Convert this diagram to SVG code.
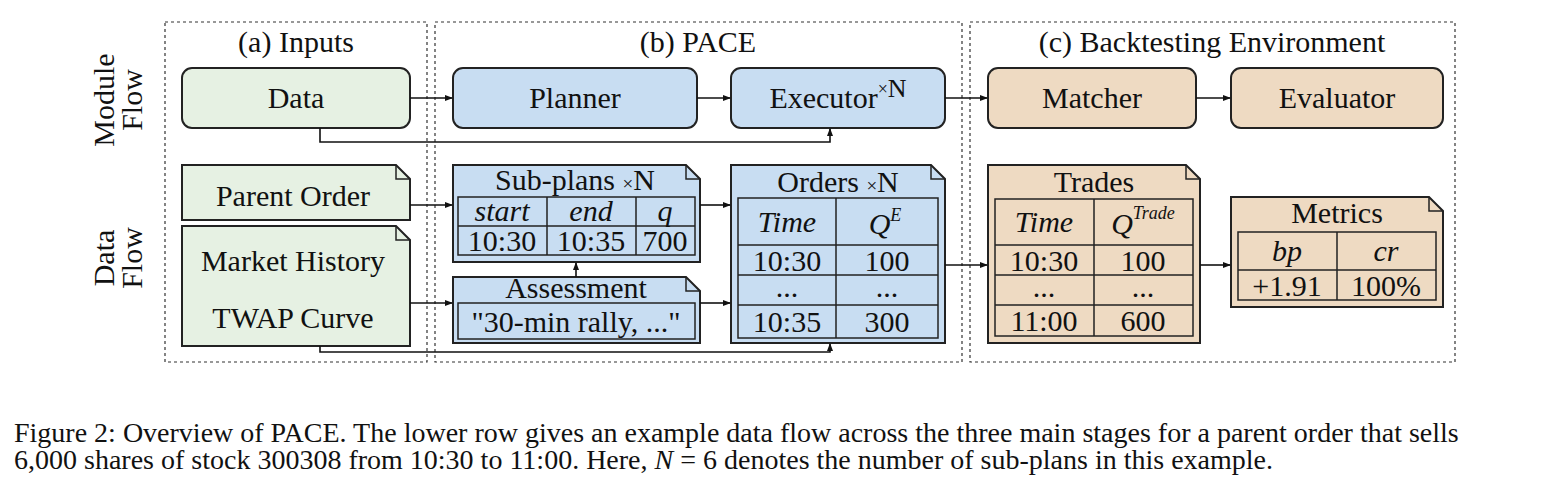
<svg xmlns="http://www.w3.org/2000/svg" width="1542" height="499" viewBox="0 0 1542 499" font-family="'Liberation Serif', 'Times New Roman', serif">
<style>
text{font-family:"Liberation Serif","Times New Roman",serif;fill:#111}
.t{font-family:"Liberation Serif","Times New Roman",serif;font-size:30px;text-anchor:middle}
.i{font-style:italic}
.sec{fill:none;stroke:#333;stroke-width:1.2;stroke-dasharray:3,3}
.g{fill:#e6f1e3;stroke:#222;stroke-width:2}
.b{fill:#c8ddf2;stroke:#222;stroke-width:2}
.o{fill:#eedac2;stroke:#222;stroke-width:2}
.tb{fill:none;stroke:#222;stroke-width:1.5}
.c{fill:none;stroke:#111;stroke-width:1.6;marker-end:url(#a)}
</style>
<defs><marker id="a" markerWidth="8" markerHeight="8" refX="7" refY="4" orient="auto" markerUnits="userSpaceOnUse"><path d="M0,1 L8,4 L0,7 Z" fill="#111"/></marker></defs>
<rect width="1542" height="499" fill="#fff"/>
<rect class="sec" x="165" y="22" width="262" height="340"/>
<rect class="sec" x="435" y="22" width="527" height="340"/>
<rect class="sec" x="970" y="22" width="485" height="340"/>
<text class="t" x="296" y="52">(a) Inputs</text>
<text class="t" x="698" y="52">(b) PACE</text>
<text class="t" x="1212" y="52">(c) Backtesting Environment</text>
<text class="t" transform="translate(114,100) rotate(-90)">Module</text>
<text class="t" transform="translate(142,100) rotate(-90)">Flow</text>
<text class="t" transform="translate(114,258) rotate(-90)">Data</text>
<text class="t" transform="translate(142,258) rotate(-90)">Flow</text>
<g id="data"><rect class="g" x="182" y="68" width="228" height="60" rx="10"/><text class="t" x="296" y="108">Data</text></g>
<g id="planner"><rect class="b" x="453" y="68" width="244" height="60" rx="10"/><text class="t" x="575" y="108">Planner</text></g>
<g id="executor"><rect class="b" x="731" y="68" width="214" height="60" rx="10"/><text class="t" x="838" y="108">Executor<tspan font-size="18" dy="-13">×</tspan><tspan font-size="26" dy="2">N</tspan></text></g>
<g id="matcher"><rect class="o" x="988" y="68" width="208" height="60" rx="10"/><text class="t" x="1092" y="108">Matcher</text></g>
<g id="evaluator"><rect class="o" x="1231" y="68" width="212" height="60" rx="10"/><text class="t" x="1337" y="108">Evaluator</text></g>
<g id="parent"><path class="g" d="M182,165 H396 L410,179 V220 H182 Z"/><path class="tb" d="M396,165 V179 H410"/><text class="t" x="293" y="206">Parent Order</text></g>
<g id="market"><path class="g" d="M182,226 H396 L410,240 V346 H182 Z"/><path class="tb" d="M396,226 V240 H410"/><text class="t" x="293" y="271">Market History</text><text class="t" x="293" y="328">TWAP Curve</text></g>
<g id="subplans"><path class="b" d="M453,165 H686 L700,179 V262 H453 Z"/><path class="tb" d="M686,165 V179 H700"/>
<text class="t" x="575" y="190">Sub-plans <tspan font-size="19">×</tspan>N</text>
<rect class="tb" x="458" y="197" width="237" height="58"/><path class="tb" d="M458,226 H695 M547,197 V255 M636,197 V255"/>
<text class="t i" x="502" y="221">start</text><text class="t i" x="591" y="221">end</text><text class="t i" x="665" y="221">q</text>
<text class="t" x="502" y="251">10:30</text><text class="t" x="591" y="251">10:35</text><text class="t" x="665" y="251">700</text></g>
<g id="assessment"><path class="b" d="M453,277 H686 L700,291 V343 H453 Z"/><path class="tb" d="M686,277 V291 H700"/>
<text class="t" x="576" y="298">Assessment</text><rect class="tb" x="458" y="303" width="237" height="36"/><text class="t" x="576" y="332">"30-min rally, ..."</text></g>
<g id="orders"><path class="b" d="M731,165 H931 L945,179 V343 H731 Z"/><path class="tb" d="M931,165 V179 H945"/>
<text class="t" x="838" y="192">Orders <tspan font-size="19">×</tspan>N</text>
<rect class="tb" x="738" y="198" width="200" height="140"/><path class="tb" d="M738,245 H938 M738,275 H938 M738,305 H938 M836,198 V338"/>
<text class="t i" x="787" y="232" font-size="32">Time</text><text class="t i" x="885" y="234" font-size="32">Q<tspan font-size="18" dy="-13">E</tspan></text>
<text class="t" x="787" y="271">10:30</text><text class="t" x="887" y="271">100</text>
<text class="t" x="787" y="297">...</text><text class="t" x="887" y="297">...</text>
<text class="t" x="787" y="332">10:35</text><text class="t" x="887" y="332">300</text></g>
<g id="trades"><path class="o" d="M988,165 H1186 L1200,179 V343 H988 Z"/><path class="tb" d="M1186,165 V179 H1200"/>
<text class="t" x="1094" y="192">Trades</text>
<rect class="tb" x="995" y="199" width="198" height="137"/><path class="tb" d="M995,245 H1193 M995,275 H1193 M995,305 H1193 M1094,199 V336"/>
<text class="t i" x="1044" y="232" font-size="32">Time</text><text class="t i" x="1143" y="234" font-size="32">Q<tspan font-size="18" dy="-15">Trade</tspan></text>
<text class="t" x="1044" y="271">10:30</text><text class="t" x="1143" y="271">100</text>
<text class="t" x="1044" y="297">...</text><text class="t" x="1143" y="297">...</text>
<text class="t" x="1044" y="331">11:00</text><text class="t" x="1143" y="331">600</text></g>
<g id="metrics"><path class="o" d="M1231,197 H1429 L1443,211 V307 H1231 Z"/><path class="tb" d="M1429,197 V211 H1443"/>
<text class="t" x="1337" y="223">Metrics</text>
<rect class="tb" x="1238" y="232" width="198" height="68"/><path class="tb" d="M1238,270 H1436 M1337,232 V300"/>
<text class="t i" x="1287" y="261">bp</text><text class="t i" x="1386" y="261">cr</text>
<text class="t" x="1287" y="296">+1.91</text><text class="t" x="1386" y="296">100%</text></g>
<g id="connectors">
<path class="c" d="M410,98 H452"/><path class="c" d="M697,98 H730"/><path class="c" d="M945,98 H987"/><path class="c" d="M1196,98 H1230"/>
<path class="c" d="M320,128 V142 H830 V129"/>
<path class="c" d="M410,205 H452"/><path class="c" d="M410,303 H452"/>
<path class="c" d="M700,205 H730"/><path class="c" d="M700,303 H730"/>
<path class="c" d="M576,277 V263"/>
<path class="c" d="M320,346 V352 H830 V344"/>
<path class="c" d="M945,265 H987"/><path class="c" d="M1200,265 H1230"/>
</g>
<text x="14" y="442" font-size="28">Figure 2: Overview of PACE. The lower row gives an example data flow across the three main stages for a parent order that sells</text>
<text x="14" y="469" font-size="28">6,000 shares of stock 300308 from 10:30 to 11:00. Here, <tspan font-style="italic">N</tspan> = 6 denotes the number of sub-plans in this example.</text>
</svg>
